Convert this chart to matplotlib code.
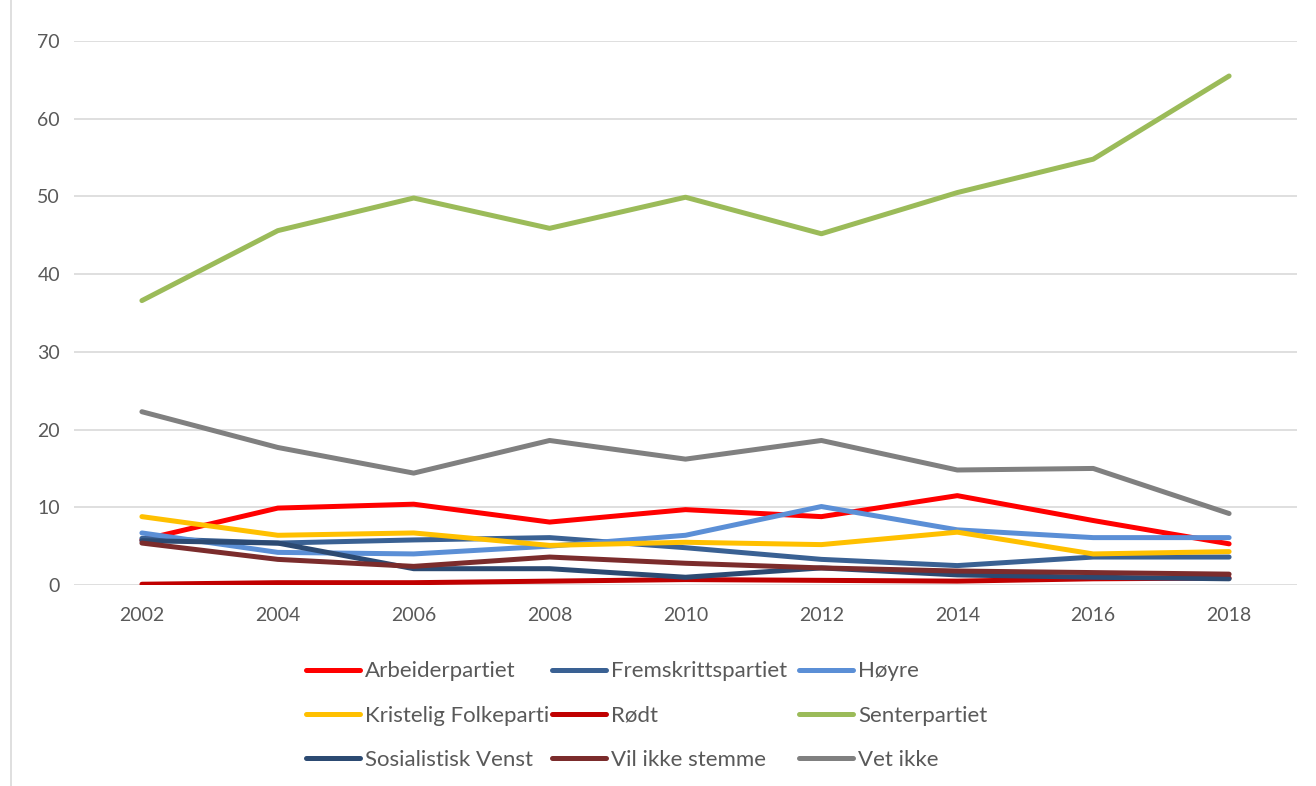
import matplotlib.pyplot as plt
from matplotlib.lines import Line2D

# survey years and share per party (%)
years = [2002, 2004, 2006, 2008, 2010, 2012, 2014, 2016, 2018]

arbeiderpartiet = [5.8, 9.9, 10.4, 8.1, 9.7, 8.8, 11.5, 8.3, 5.3]
fremskrittspartiet = [6.0, 5.4, 5.8, 6.1, 4.8, 3.3, 2.5, 3.6, 3.6]
hoyre = [6.7, 4.2, 4.0, 5.0, 6.4, 10.1, 7.1, 6.1, 6.1]
kristelig = [8.8, 6.4, 6.7, 5.1, 5.5, 5.2, 6.8, 4.0, 4.3]
rodt = [0.1, 0.3, 0.3, 0.5, 0.7, 0.6, 0.5, 0.8, 0.9]
senterpartiet = [36.6, 45.6, 49.8, 45.9, 49.9, 45.2, 50.5, 54.8, 65.5]
sosialistisk = [5.7, 5.4, 2.1, 2.1, 1.0, 2.2, 1.3, 1.0, 0.8]
vil_ikke = [5.4, 3.3, 2.4, 3.6, 2.8, 2.2, 1.8, 1.6, 1.4]
vet_ikke = [22.3, 17.7, 14.4, 18.6, 16.2, 18.6, 14.8, 15.0, 9.2]

series = [
    ("Arbeiderpartiet", arbeiderpartiet, "#FF0000"),
    ("Fremskrittspartiet", fremskrittspartiet, "#3A6193"),
    ("Høyre", hoyre, "#5B8FD6"),
    ("Kristelig Folkeparti", kristelig, "#FFC000"),
    ("Rødt", rodt, "#C00000"),
    ("Senterpartiet", senterpartiet, "#9BBB59"),
    ("Sosialistisk Venst", sosialistisk, "#2C4A72"),
    ("Vil ikke stemme", vil_ikke, "#7B2C2C"),
    ("Vet ikke", vet_ikke, "#808080"),
]

plt.rcParams['font.family'] = ['Lato', 'DejaVu Sans']

fig = plt.figure(figsize=(13.16, 7.86), dpi=100)
ax = fig.add_axes([0.0562, 0.2557, 0.9294, 0.6921])

handles = {}
for name, vals, col in series:
    ln, = ax.plot(years, vals, color=col, lw=3.6, solid_capstyle='round',
                  solid_joinstyle='round', label=name)
    handles[name] = ln

ax.set_xlim(2001, 2019)
ax.set_ylim(0, 70)
ax.set_xticks(years)
ax.set_yticks(range(0, 71, 10))
ax.grid(axis='y', color='#D9D9D9', lw=1.2)
ax.set_axisbelow(True)
for s in ax.spines.values():
    s.set_visible(False)
ax.tick_params(length=0, labelsize=14, colors='#595959')
ax.tick_params(axis='x', pad=16)
ax.tick_params(axis='y', pad=10)

# frame edge of the original chart area on the left
fig.add_artist(Line2D([0.0084, 0.0084], [0, 1], color='#D9D9D9', lw=1.2))

# legend: three fixed-width columns, entries row by row like the original
columns = [["Arbeiderpartiet", "Kristelig Folkeparti", "Sosialistisk Venst"],
           ["Fremskrittspartiet", "Rødt", "Vil ikke stemme"],
           ["Høyre", "Senterpartiet", "Vet ikke"]]
col_x = [0.2325, 0.4195, 0.6075]
for names, x0 in zip(columns, col_x):
    leg = fig.legend([handles[n] for n in names], names,
                     loc='upper left', bbox_to_anchor=(x0, 0.1586),
                     frameon=False, fontsize=16, handlelength=2.43,
                     handletextpad=0.22, labelspacing=1.09,
                     borderpad=0, borderaxespad=0)
    for t in leg.get_texts():
        t.set_color('#595959')

fig.savefig('out.png', dpi=100)
